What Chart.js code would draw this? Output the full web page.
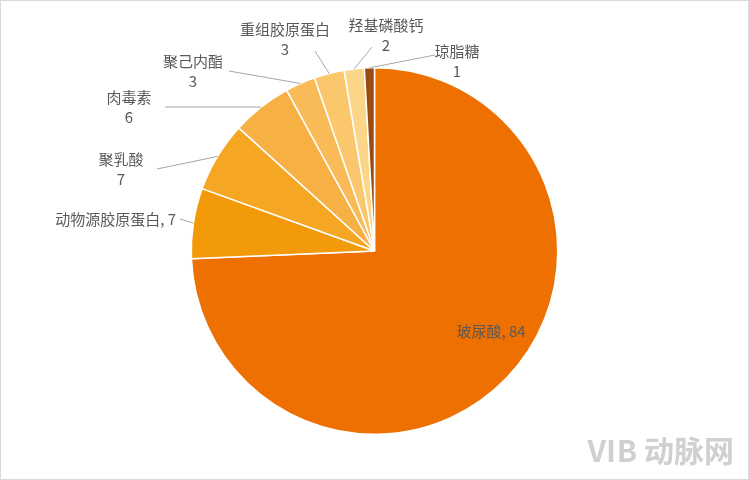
<!DOCTYPE html>
<html><head><meta charset="utf-8">
<script src="https://cdn.jsdelivr.net/npm/chart.js@4"></script>
<style>
body{margin:0;background:#fff}
#wrap{position:relative;width:747px;height:478px;border:1px solid #d9d9d9}
#mark{position:absolute;right:14px;bottom:8px;font:bold 30px "Noto Sans CJK SC";color:#d0d0d0}
</style></head><body>
<div id="wrap"><canvas id="c"></canvas><div id="mark">ⅥB 动脉网</div></div>
<script>
const categories = ['玻尿酸','动物源胶原蛋白','聚乳酸','肉毒素','聚己内酯','重组胶原蛋白','羟基磷酸钙','琼脂糖'];
const values = [84,7,7,6,3,3,2,1];
const colors = ['#ED7000','#F39A0B','#F5A623','#F6B043','#F8BB58','#FAC76C','#FCD688','#9A4B10'];

// label layout: [x, y, align, twoLines]
const labelLayout = [
  [490,330,'center',false],
  [175,218,'right',false],
  [120,150,'center',true],
  [128,88,'center',true],
  [192,52,'center',true],
  [284,20,'center',true],
  [385,16,'center',true],
  [456,42,'center',true]
];

const labelPlugin = {
  id: 'labels',
  afterDatasetsDraw(chart) {
    const ctx = chart.ctx;
    const arcs = chart.getDatasetMeta(0).data;
    ctx.save();
    ctx.font = '15px "Noto Sans CJK SC"';
    ctx.fillStyle = '#595959';
    ctx.textBaseline = 'middle';
    arcs.forEach((a, i) => {
      const [x, y, align, two] = labelLayout[i];
      const mid = (a.startAngle + a.endAngle) / 2;
      if (i > 0) {
        const ex = a.x + Math.cos(mid) * a.outerRadius;
        const ey = a.y + Math.sin(mid) * a.outerRadius;
        let lx, ly;
        if (align === 'right') { lx = x + 4; ly = y; }
        else if (x < a.x) { lx = x + 36; ly = y + 18; }
        else { lx = x - 20; ly = y + 24; }
        if (i >= 5 && x < a.x) { lx = x + 30; ly = y + 30; }
        if (i === 6) { lx = x - 14; ly = y + 30; }
        if (i === 7) { lx = x - 22; ly = y + 12; }
        ctx.strokeStyle = '#a6a6a6';
        ctx.lineWidth = 1;
        ctx.beginPath();
        ctx.moveTo(ex, ey);
        ctx.lineTo(lx, ly);
        ctx.stroke();
      }
      ctx.textAlign = align;
      if (two) {
        ctx.fillText(categories[i], x, y + 8);
        ctx.fillText(String(values[i]), x, y + 28);
      } else {
        ctx.fillText(categories[i] + ', ' + values[i], x, y);
      }
    });
    ctx.restore();
  }
};

new Chart(document.getElementById('c'), {
  type: 'pie',
  data: { labels: categories, datasets: [{ data: values, backgroundColor: colors, borderColor: '#fff', borderWidth: 1.5 }] },
  options: {
    responsive: true, maintainAspectRatio: false, animation: false,
    layout: { padding: { top: 66, bottom: 44, left: 10, right: 10 } },
    plugins: { legend: { display: false }, tooltip: { enabled: false } }
  },
  plugins: [labelPlugin]
});
</script></body></html>
